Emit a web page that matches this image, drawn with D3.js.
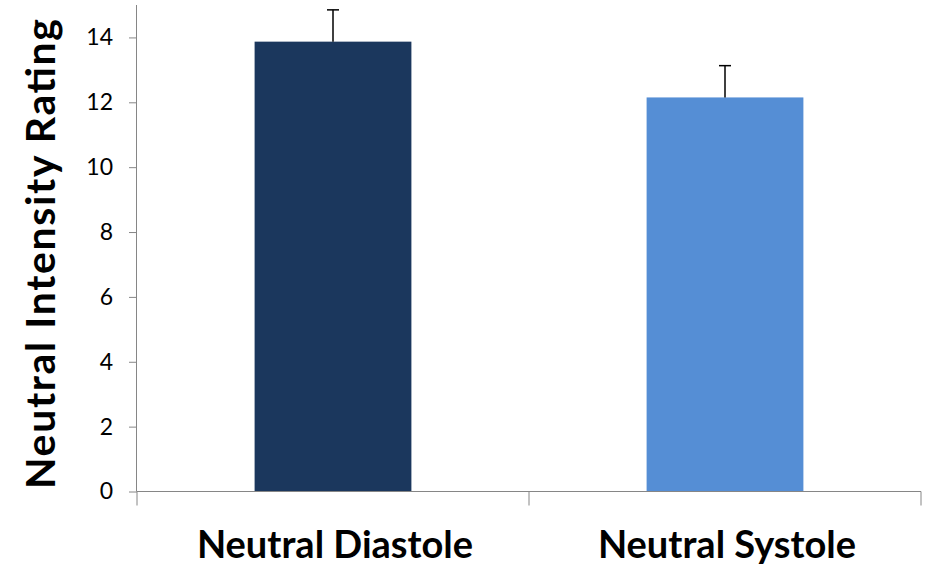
<!DOCTYPE html>
<html><head><meta charset="utf-8">
<script src="https://cdn.jsdelivr.net/npm/d3@7"></script>
<style>body{margin:0;background:#fff}</style>
</head><body>
<svg id="chart" width="932" height="567"></svg>
<script>
const categories = ["Neutral Diastole", "Neutral Systole"];
const values = [13.87, 12.15];
const errors = [0.98, 0.98];
const colors = ["#1b375d", "#558ed5"];
const yTicks = [0, 2, 4, 6, 8, 10, 12, 14];
const yLabel = "Neutral Intensity Rating";

const svg = d3.select("#chart");
const m = {left: 137, right: 921, top: 5, bottom: 491.5};
const x = d3.scaleBand().domain(categories).range([m.left, m.right]).paddingInner(0.6).paddingOuter(0.3);
const xb = d3.scaleBand().domain(categories).range([m.left, m.right]);
const y = d3.scaleLinear().domain([0, 15]).range([m.bottom, m.top]);
const font = "Lato, 'Open Sans', sans-serif";
const axisColor = "#868686";

// bars
svg.selectAll("rect.bar").data(categories).enter().append("rect")
  .attr("x", d => x(d)).attr("width", x.bandwidth())
  .attr("y", (d,i) => y(values[i])).attr("height", (d,i) => y(0) - y(values[i]))
  .attr("fill", (d,i) => colors[i]);

// error bars
const eg = svg.append("g").attr("stroke", "#000").attr("stroke-width", 1.5);
categories.forEach((c,i) => {
  const cx = x(c) + x.bandwidth()/2;
  eg.append("line").attr("x1", cx).attr("x2", cx).attr("y1", y(values[i])).attr("y2", y(values[i]+errors[i]));
  eg.append("line").attr("x1", cx-6).attr("x2", cx+6).attr("y1", y(values[i]+errors[i])).attr("y2", y(values[i]+errors[i]));
});

// y axis
const ya = svg.append("g").attr("transform", `translate(${m.left},0)`)
  .call(d3.axisLeft(y).tickValues(yTicks).tickSize(8).tickPadding(16).tickFormat(d3.format("d")));
ya.select(".domain").attr("stroke", axisColor).attr("d", `M-0.5,${m.top}V${m.bottom}`);
ya.selectAll(".tick line").attr("stroke", axisColor);
ya.selectAll(".tick text").attr("fill", "#000").attr("font-size", null)
  .style("font-family", font).style("font-size", "23px");

// x axis
const xa = svg.append("g").attr("transform", `translate(0,${m.bottom})`);
xa.append("line").attr("x1", m.left).attr("x2", m.right).attr("stroke", axisColor);
const xTickPos = [m.left, ...categories.map(c => xb(c) + xb.bandwidth())];
xa.selectAll("line.xt").data(xTickPos).enter().append("line")
  .attr("x1", d => d).attr("x2", d => d).attr("y1", 0).attr("y2", 14).attr("stroke", axisColor);
xa.selectAll("text").data(categories).enter().append("text")
  .attr("x", d => xb(d) + xb.bandwidth()/2 + 2).attr("y", 558 - m.bottom)
  .attr("text-anchor", "middle")
  .style("font-family", font).style("font-weight", "bold").style("font-size", "38px")
  .text(d => d);

// y label
svg.append("text").attr("transform", `translate(55,${(18+490)/2}) rotate(-90)`)
  .attr("text-anchor", "middle")
  .attr("textLength", 470).attr("lengthAdjust", "spacing")
  .style("font-family", font).style("font-weight", "bold").style("font-size", "41px")
  .text(yLabel);
</script>
</body></html>
